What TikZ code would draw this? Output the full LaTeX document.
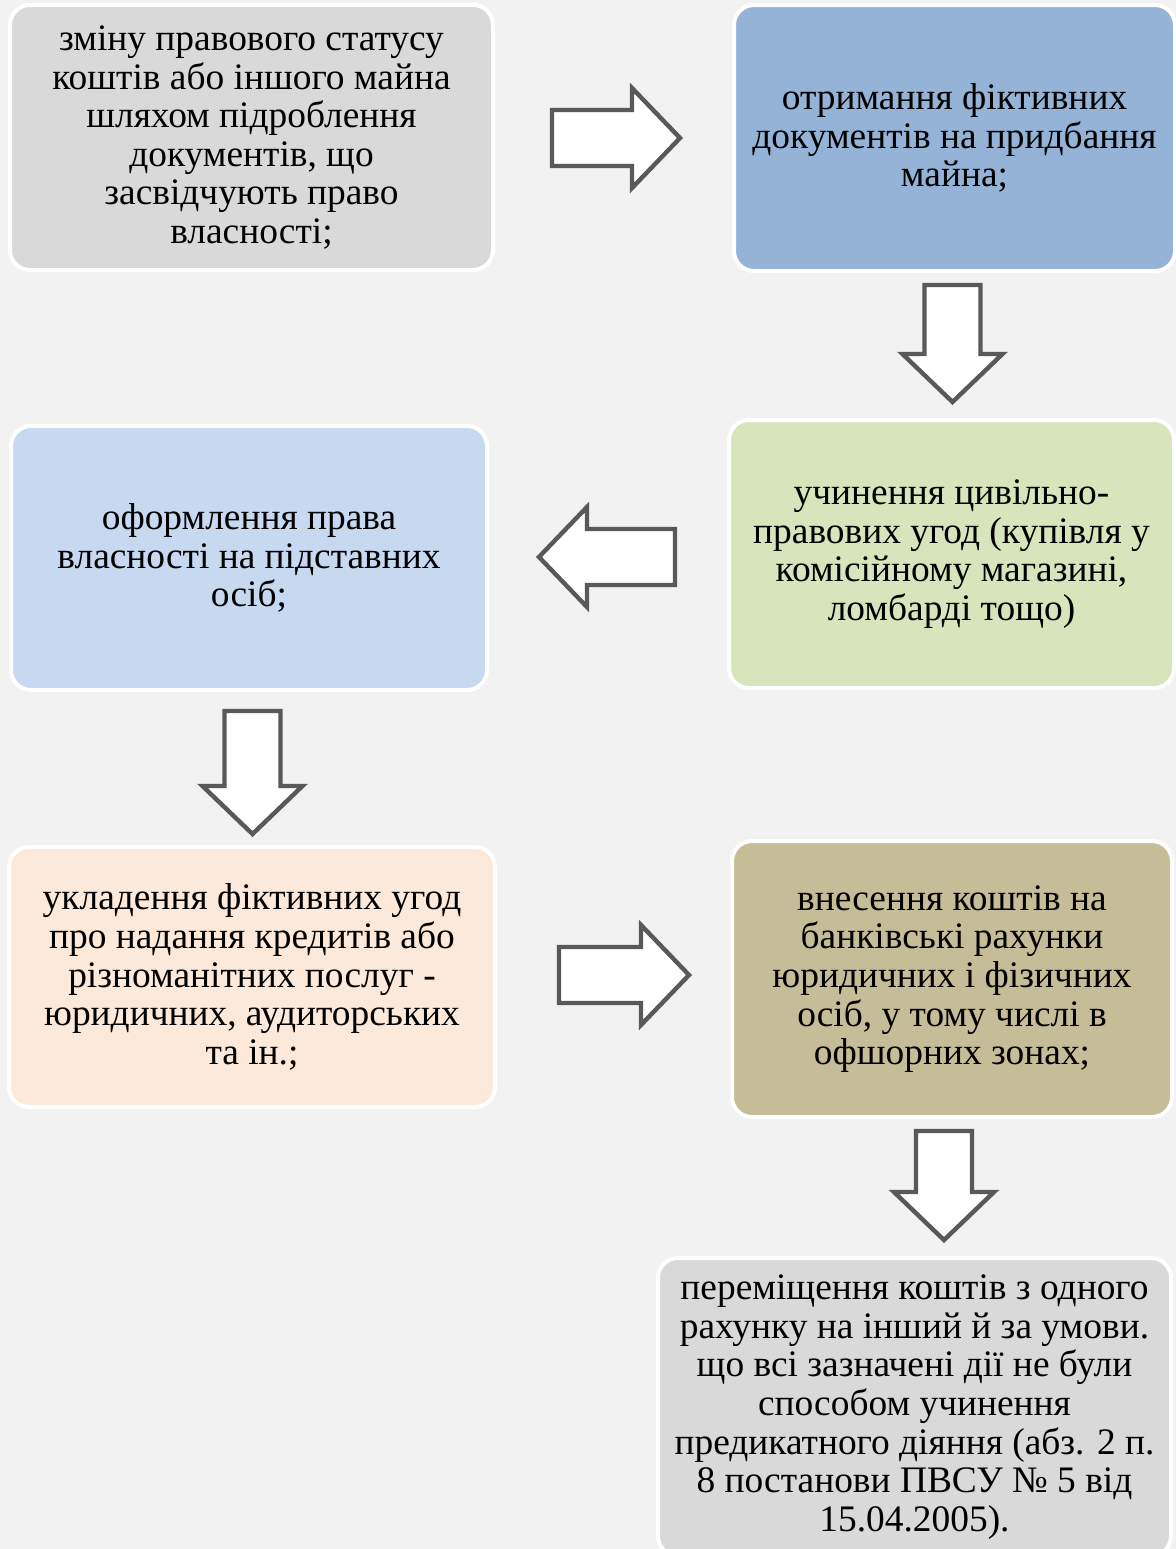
\documentclass[tikz,border=0pt]{standalone}
\usepackage{fontspec}
\setmainfont{Liberation Serif}
\definecolor{bgcol}{HTML}{F2F2F2}
\definecolor{graybox}{HTML}{D9D9D9}
\definecolor{bluebox}{HTML}{95B3D7}
\definecolor{greenbox}{HTML}{D8E4BC}
\definecolor{skybox}{HTML}{C6D9F1}
\definecolor{peachbox}{HTML}{FDE9D9}
\definecolor{tanbox}{HTML}{C4BD97}
\definecolor{arrowgray}{HTML}{595959}
\tikzset{
  stagebox/.style={draw=white, line width=2pt, rounded corners=10pt, inner sep=0pt,
    align=center, font=\fontsize{18.7}{19.3}\selectfont},
  flowarrow/.style={draw=arrowgray, fill=white, line width=2.2pt, line join=miter}
}
\begin{document}
\begin{tikzpicture}[x=0.5pt, y=-0.5pt]
	\useasboundingbox (0,0) rectangle (1176,1549);
	\clip (0,0) rectangle (1176,1549);
	\fill[bgcol] (0,0) rectangle (1176,1549);
	% boxes
	\node[stagebox, fill=graybox, minimum width=241.5pt, minimum height=132.5pt] (zmina) at (251.5,137.5)
		{зміну правового статусу\\коштів або іншого майна\\шляхом підроблення\\документів, що\\засвідчують право\\власності;};
	\node[stagebox, fill=bluebox, minimum width=220.5pt, minimum height=133pt] (otrymannia) at (954.5,138)
		{отримання фіктивних\\документів на придбання\\майна;};
	\node[stagebox, fill=greenbox, minimum width=222.5pt, minimum height=134pt] (uchynennia) at (951.5,554)
		{учинення цивільно-\\правових угод (купівля у\\комісійному магазині,\\ломбарді тощо)};
	\node[stagebox, fill=skybox, minimum width=238pt, minimum height=132pt] (oformlennia) at (249,558)
		{оформлення права\\власності на підставних\\осіб;};
	\node[stagebox, fill=peachbox, minimum width=243pt, minimum height=130pt] (ukladennia) at (252,977)
		{укладення фіктивних угод\\про надання кредитів або\\різноманітних послуг -\\юридичних, аудиторських\\та ін.;};
	\node[stagebox, fill=tanbox, minimum width=220pt, minimum height=138pt] (vnesennia) at (952,979)
		{внесення коштів на\\банківські рахунки\\юридичних і фізичних\\осіб, у тому числі в\\офшорних зонах;};
	\node[stagebox, fill=graybox, minimum width=256.5pt, minimum height=149pt] (peremishchennia) at (914.5,1407)
		{переміщення коштів з одного\\рахунку на інший й за умови.\\що всі зазначені дії не були\\способом учинення\\предикатного діяння (абз. 2 п.\\8 постанови ПВСУ № 5 від\\15.04.2005).};
	% block arrows: tail x / tail y / length / angle
	\foreach \ax/\ay/\al/\aa in {552/138/128/0, 952.5/285/117/-90, 675/557/136/180,
		252.5/711/123/-90, 559/975/130/0, 944/1131/109/-90}
		\draw[flowarrow, shift={(\ax,\ay)}, rotate=\aa]
			(0,-28) -- (\al-48,-28) -- (\al-48,-50) -- (\al,0) -- (\al-48,50) -- (\al-48,28) -- (0,28) -- cycle;
\end{tikzpicture}
\end{document}
